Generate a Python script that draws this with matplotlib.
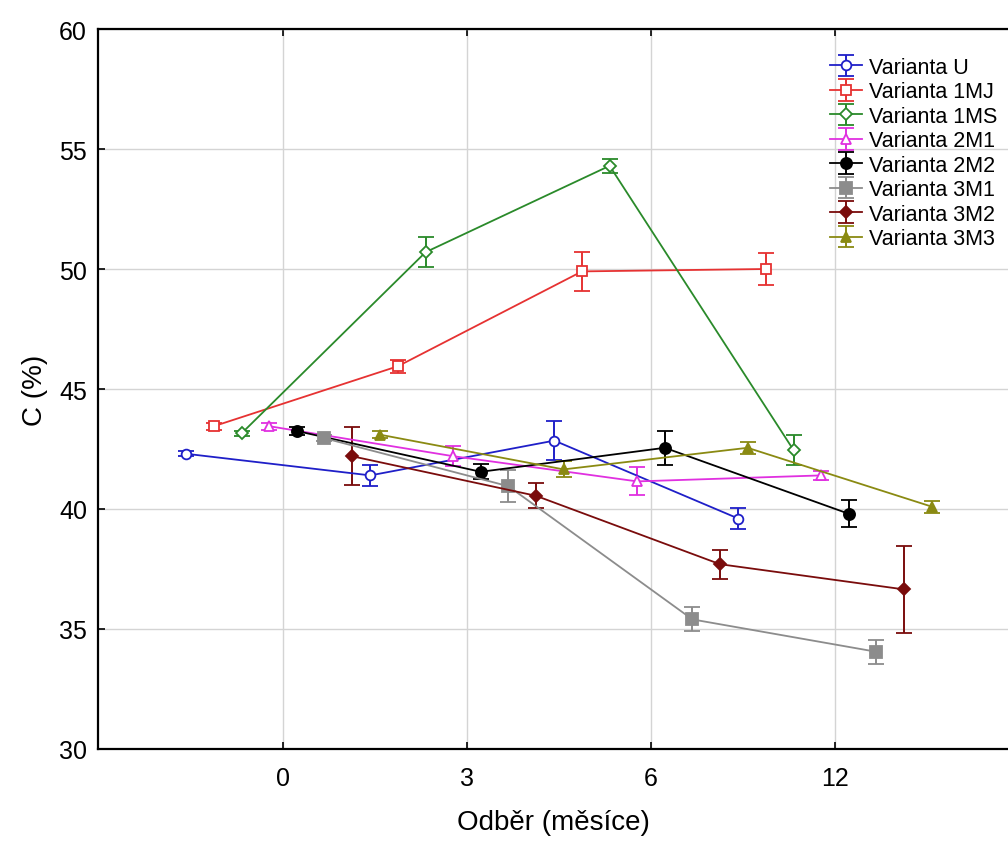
"""Obsah uhlíku C (%) podle odběru - varianty s chybovými úsečkami."""

import matplotlib

matplotlib.use("Agg")
import matplotlib.pyplot as plt
import numpy as np

plt.rcParams["font.family"] = ["Liberation Sans", "DejaVu Sans"]

# odběry (měsíce)
odbery = ["0", "3", "6", "12"]

varianty = [
    "Varianta U",
    "Varianta 1MJ",
    "Varianta 1MS",
    "Varianta 2M1",
    "Varianta 2M2",
    "Varianta 3M1",
    "Varianta 3M2",
    "Varianta 3M3",
]

# průměry C (%)
c_u = [42.3, 41.4, 42.85, 39.6]
c_1mj = [43.45, 45.95, 49.9, 50.0]
c_1ms = [43.15, 50.7, 54.3, 42.45]
c_2m1 = [43.45, 42.2, 41.15, 41.4]
c_2m2 = [43.25, 41.55, 42.55, 39.8]
c_3m1 = [42.95, 40.95, 35.4, 34.05]
c_3m2 = [42.2, 40.55, 37.7, 36.65]
c_3m3 = [43.1, 41.65, 42.55, 40.1]

# chyby (±)
e_u = [0.1, 0.45, 0.8, 0.45]
e_1mj = [0.15, 0.27, 0.82, 0.65]
e_1ms = [0.1, 0.62, 0.3, 0.62]
e_2m1 = [0.15, 0.42, 0.58, 0.2]
e_2m2 = [0.15, 0.31, 0.72, 0.56]
e_3m1 = [0.12, 0.66, 0.5, 0.5]
e_3m2 = [1.2, 0.52, 0.6, 1.8]
e_3m3 = [0.15, 0.33, 0.25, 0.25]

hodnoty = [c_u, c_1mj, c_1ms, c_2m1, c_2m2, c_3m1, c_3m2, c_3m3]
chyby = [e_u, e_1mj, e_1ms, e_2m1, e_2m2, e_3m1, e_3m2, e_3m3]

styly = [
    ("#1f1fc8", "o", 7, False),
    ("#e63232", "s", 7, False),
    ("#2a8a2a", "D", 6, False),
    ("#e030e0", "^", 7, False),
    ("#000000", "o", 8, True),
    ("#8c8c8c", "s", 8, True),
    ("#7a0c0c", "D", 6, True),
    ("#8a8a12", "^", 7, True),
]

fig = plt.figure(figsize=(10.08, 8.45), dpi=100)
ax = fig.add_axes([98 / 1008, 95 / 845, 910 / 1008, 720 / 845])

x = np.arange(len(odbery))
krok = 0.15
for i, (nazev, y, err, (barva, mk, ms, plny)) in enumerate(
    zip(varianty, hodnoty, chyby, styly)
):
    xs = x + (i - 3.5) * krok
    ax.errorbar(
        xs,
        y,
        yerr=err,
        color=barva,
        marker=mk,
        markersize=ms,
        markerfacecolor=barva if plny else "white",
        markeredgecolor=barva,
        markeredgewidth=1.3,
        linewidth=1.3,
        elinewidth=1.4,
        capsize=6,
        capthick=1.4,
        label=nazev,
        zorder=3,
    )

ax.set_xlim(-1.005, 3.94)
ax.set_ylim(30, 60)
ax.set_xticks(x)
ax.set_xticklabels(odbery)
ax.set_yticks(np.arange(30, 61, 5))
ax.tick_params(axis="both", direction="in", labelsize=18, length=5, width=1.2, pad=8)
ax.tick_params(axis="x", top=True, pad=12)
ax.grid(True, color="#d4d4d4", linewidth=1.0, zorder=0)
ax.set_axisbelow(True)

for s in ("left", "bottom", "top"):
    ax.spines[s].set_linewidth(1.6)
ax.spines["right"].set_visible(False)

ax.set_xlabel("Odběr (měsíce)", fontsize=20, labelpad=14)
ax.set_ylabel("C (%)", fontsize=20, labelpad=8)

ax.legend(
    loc="upper left",
    bbox_to_anchor=(830 / 1008, 1 - 58 / 845),
    bbox_transform=fig.transFigure,
    frameon=False,
    fontsize=15.5,
    handlelength=1.5,
    handletextpad=0.3,
    labelspacing=0.16,
    borderpad=0,
    borderaxespad=0,
)

fig.savefig("out.png", dpi=100)
plt.close(fig)
